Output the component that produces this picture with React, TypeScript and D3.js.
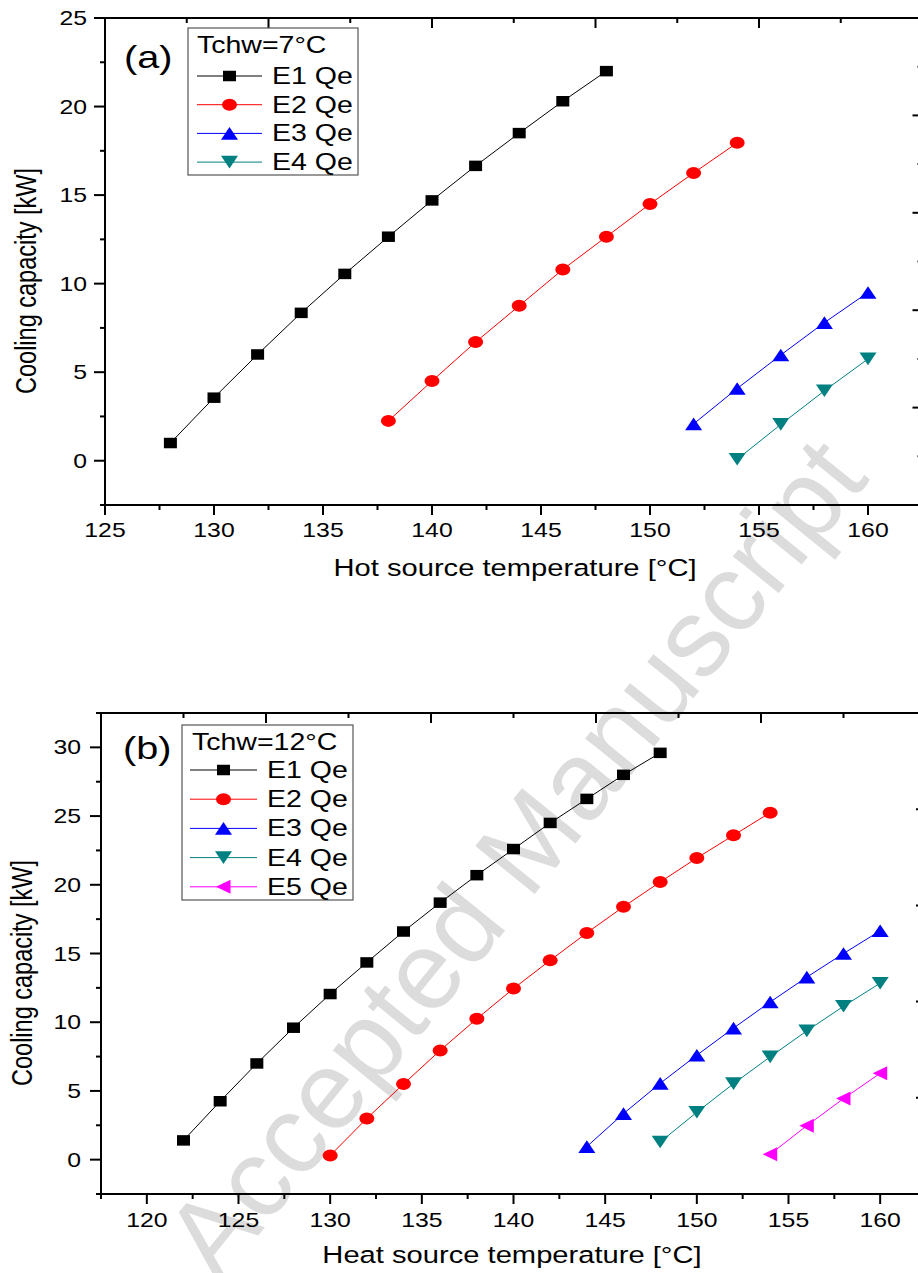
import React, { useEffect, useRef } from 'react';
import * as d3 from 'd3';

// Panel (a) - Tchw = 7°C
const tempA1 = [128, 130, 132, 134, 136, 138, 140, 142, 144, 146, 148];
const qeA1 = [1.0, 3.56, 6.0, 8.35, 10.55, 12.65, 14.7, 16.65, 18.5, 20.3, 22.0];
const tempA2 = [138, 140, 142, 144, 146, 148, 150, 152, 154];
const qeA2 = [2.25, 4.5, 6.7, 8.75, 10.8, 12.65, 14.5, 16.25, 17.95];
const tempA3 = [152, 154, 156, 158, 160];
const qeA3 = [2.08, 4.08, 5.97, 7.8, 9.5];
const tempA4 = [154, 156, 158, 160];
const qeA4 = [0.08, 2.05, 3.95, 5.75];

// Panel (b) - Tchw = 12°C
const tempB1 = [122, 124, 126, 128, 130, 132, 134, 136, 138, 140, 142, 144, 146, 148];
const qeB1 = [1.4, 4.25, 7.0, 9.6, 12.05, 14.35, 16.6, 18.7, 20.7, 22.6, 24.5, 26.25, 28.0, 29.6];
const tempB2 = [130, 132, 134, 136, 138, 140, 142, 144, 146, 148, 150, 152, 154];
const qeB2 = [0.3, 3.0, 5.5, 7.95, 10.25, 12.45, 14.5, 16.5, 18.4, 20.2, 21.95, 23.6, 25.25];
const tempB3 = [144, 146, 148, 150, 152, 154, 156, 158, 160];
const qeB3 = [0.95, 3.35, 5.55, 7.6, 9.57, 11.47, 13.28, 15.0, 16.65];
const tempB4 = [148, 150, 152, 154, 156, 158, 160];
const qeB4 = [1.28, 3.45, 5.53, 7.48, 9.37, 11.16, 12.84];
const tempB5 = [154, 156, 158, 160];
const qeB5 = [0.39, 2.47, 4.44, 6.28];

const xTicksA = [125, 130, 135, 140, 145, 150, 155, 160];
const yTicksA = [0, 5, 10, 15, 20, 25];
const xTicksB = [120, 125, 130, 135, 140, 145, 150, 155, 160];
const yTicksB = [0, 5, 10, 15, 20, 25, 30];

const seriesNames = ['E1 Qe', 'E2 Qe', 'E3 Qe', 'E4 Qe', 'E5 Qe'];
const seriesColors = ['#000000', '#ff0000', '#0000ff', '#008080', '#ff00ff'];
const seriesSymbols = ['square', 'circle', 'up', 'down', 'left'];

const FONT = '"Liberation Sans", Arial, Helvetica, sans-serif';
const SX = 1.24; // the source figure is stretched horizontally

const markerPath = (type: string) => {
  switch (type) {
    case 'square':
      return 'M-6.5,-5.25h13v10.5h-13z';
    case 'circle':
      return 'M-7.5,0a7.5,6 0 1,0 15,0a7.5,6 0 1,0 -15,0z';
    case 'up':
      return 'M0,-6.3L8.5,6.3L-8.5,6.3Z';
    case 'down':
      return 'M0,6.3L8.5,-6.3L-8.5,-6.3Z';
    default:
      return 'M-7.5,0L7,-7L7,7Z';
  }
};

const panels = [
  {
    box: { left: 105, right: 922.5, top: 18, bottom: 505 },
    xDomain: [125, 162.5],
    yDomain: [-2.5, 25],
    xTicks: xTicksA,
    yTicks: yTicksA,
    series: [
      { x: tempA1, y: qeA1 },
      { x: tempA2, y: qeA2 },
      { x: tempA3, y: qeA3 },
      { x: tempA4, y: qeA4 },
    ],
    label: '(a)',
    labelPos: [124, 68],
    legendTitle: 'Tchw=7°C',
    legend: { x0: 188, y0: 28, x1: 358, y1: 175, titleX: 197, titleY: 53, row0: 76, rowStep: 28.7, lineX0: 197, lineX1: 262, textX: 272 },
    xTitle: 'Hot source temperature [°C]',
    xTitlePos: [515, 576],
    yTitlePos: [36, 281],
    yLabelGap: 18,
    xLabelDy: 32,
  },
  {
    box: { left: 101, right: 926, top: 713, bottom: 1194 },
    xDomain: [117.5, 162.5],
    yDomain: [-2.5, 32.5],
    xTicks: xTicksB,
    yTicks: yTicksB,
    series: [
      { x: tempB1, y: qeB1 },
      { x: tempB2, y: qeB2 },
      { x: tempB3, y: qeB3 },
      { x: tempB4, y: qeB4 },
      { x: tempB5, y: qeB5 },
    ],
    label: '(b)',
    labelPos: [123, 759],
    legendTitle: 'Tchw=12°C',
    legend: { x0: 182, y0: 725, x1: 353, y1: 900, titleX: 192, titleY: 750, row0: 770, rowStep: 29.2, lineX0: 190, lineX1: 257, textX: 267 },
    xTitle: 'Heat source temperature [°C]',
    xTitlePos: [512, 1263],
    yTitlePos: [32, 973],
    yLabelGap: 20,
    xLabelDy: 33,
  },
];

export default function App() {
  const svgRef = useRef<SVGSVGElement | null>(null);

  useEffect(() => {
    if (!svgRef.current) return;
    const svg = d3.select(svgRef.current);
    svg.selectAll('*').remove();

    // watermark behind the charts (cut by the bottom edge, as in the source)
    svg.append('text')
      .attr('transform', 'translate(515, 858) rotate(-51)')
      .attr('text-anchor', 'middle')
      .attr('dominant-baseline', 'central')
      .attr('font-family', FONT)
      .attr('font-size', 111)
      .attr('fill', '#dcdcdc')
      .text('Accepted Manuscript');

    panels.forEach((p) => {
      const { left, right, top, bottom } = p.box;
      const x = d3.scaleLinear().domain(p.xDomain).range([left, right]);
      const y = d3.scaleLinear().domain(p.yDomain).range([bottom, top]);
      const g = svg.append('g');

      // series lines and markers
      p.series.forEach((s, i) => {
        const pts = s.x.map((t, k) => [t, s.y[k]] as [number, number]);
        const line = d3.line<[number, number]>()
          .x((d) => x(d[0]))
          .y((d) => y(d[1]));
        g.append('path')
          .datum(pts)
          .attr('fill', 'none')
          .attr('stroke', seriesColors[i])
          .attr('stroke-width', 1)
          .attr('d', line);
        g.selectAll(`.m${i}`)
          .data(pts)
          .enter()
          .append('path')
          .attr('transform', (d) => `translate(${x(d[0])},${y(d[1])})`)
          .attr('d', markerPath(seriesSymbols[i]))
          .attr('fill', seriesColors[i]);
      });

      // frame
      g.append('rect')
        .attr('x', left)
        .attr('y', top)
        .attr('width', right - left)
        .attr('height', bottom - top)
        .attr('fill', 'none')
        .attr('stroke', '#000')
        .attr('stroke-width', 2);

      const tick = (x1: number, y1: number, x2: number, y2: number) =>
        g.append('line')
          .attr('x1', x1).attr('y1', y1).attr('x2', x2).attr('y2', y2)
          .attr('stroke', '#000').attr('stroke-width', 2);

      // bottom axis ticks (outward)
      d3.range(p.xDomain[0], p.xDomain[1] + 0.01, 2.5).forEach((v) => {
        const major = p.xTicks.includes(v);
        tick(x(v), bottom, x(v), bottom + (major ? 10 : 5));
      });
      // left axis ticks (outward)
      d3.range(p.yDomain[0], p.yDomain[1] + 0.01, 2.5).forEach((v) => {
        const major = p.yTicks.includes(v);
        tick(left, y(v), left - (major ? 11 : 5), y(v));
      });
      // top & right axes: 5 divisions, inward ticks
      d3.range(0, 11).forEach((k) => {
        const major = k % 2 === 0;
        const xv = p.xDomain[0] + (k * (p.xDomain[1] - p.xDomain[0])) / 10;
        const yv = p.yDomain[0] + (k * (p.yDomain[1] - p.yDomain[0])) / 10;
        tick(x(xv), top, x(xv), top + (major ? 10 : 5));
        tick(right, y(yv), right - (major ? 10 : 5), y(yv));
      });

      // tick labels
      p.xTicks.forEach((v) => {
        g.append('text')
          .attr('transform', `translate(${x(v)},${bottom + p.xLabelDy}) scale(${SX},1)`)
          .attr('text-anchor', 'middle')
          .attr('font-family', FONT)
          .attr('font-size', 20)
          .text(v);
      });
      p.yTicks.forEach((v) => {
        g.append('text')
          .attr('transform', `translate(${left - p.yLabelGap},${y(v) + 7}) scale(${SX},1)`)
          .attr('text-anchor', 'end')
          .attr('font-family', FONT)
          .attr('font-size', 20)
          .text(v);
      });

      // axis titles
      g.append('text')
        .attr('transform', `translate(${p.xTitlePos[0]},${p.xTitlePos[1]}) scale(${SX},1)`)
        .attr('text-anchor', 'middle')
        .attr('font-family', FONT)
        .attr('font-size', 23.5)
        .text(p.xTitle);
      g.append('text')
        .attr('transform', `translate(${p.yTitlePos[0]},${p.yTitlePos[1]}) scale(${SX},1) rotate(-90)`)
        .attr('text-anchor', 'middle')
        .attr('font-family', FONT)
        .attr('font-size', 23.5)
        .text('Cooling capacity [kW]');

      // panel label
      g.append('text')
        .attr('transform', `translate(${p.labelPos[0]},${p.labelPos[1]}) scale(${SX},1)`)
        .attr('font-family', FONT)
        .attr('font-size', 32)
        .text(p.label);

      // legend
      const L = p.legend;
      g.append('rect')
        .attr('x', L.x0)
        .attr('y', L.y0)
        .attr('width', L.x1 - L.x0)
        .attr('height', L.y1 - L.y0)
        .attr('fill', '#fff')
        .attr('stroke', '#555')
        .attr('stroke-width', 1.2);
      g.append('text')
        .attr('transform', `translate(${L.titleX},${L.titleY}) scale(${SX},1)`)
        .attr('font-family', FONT)
        .attr('font-size', 23)
        .text(p.legendTitle);
      p.series.forEach((_, i) => {
        const cy = L.row0 + i * L.rowStep;
        g.append('line')
          .attr('x1', L.lineX0).attr('x2', L.lineX1)
          .attr('y1', cy).attr('y2', cy)
          .attr('stroke', seriesColors[i])
          .attr('stroke-width', 1);
        g.append('path')
          .attr('transform', `translate(${(L.lineX0 + L.lineX1) / 2},${cy})`)
          .attr('d', markerPath(seriesSymbols[i]))
          .attr('fill', seriesColors[i]);
        g.append('text')
          .attr('transform', `translate(${L.textX},${cy + 8}) scale(${SX},1)`)
          .attr('font-family', FONT)
          .attr('font-size', 23)
          .text(seriesNames[i]);
      });
    });
  }, []);

  return (
    <svg
      ref={svgRef}
      width={918}
      height={1273}
      style={{ position: 'absolute', left: 0, top: 0, background: '#fff' }}
    />
  );
}
